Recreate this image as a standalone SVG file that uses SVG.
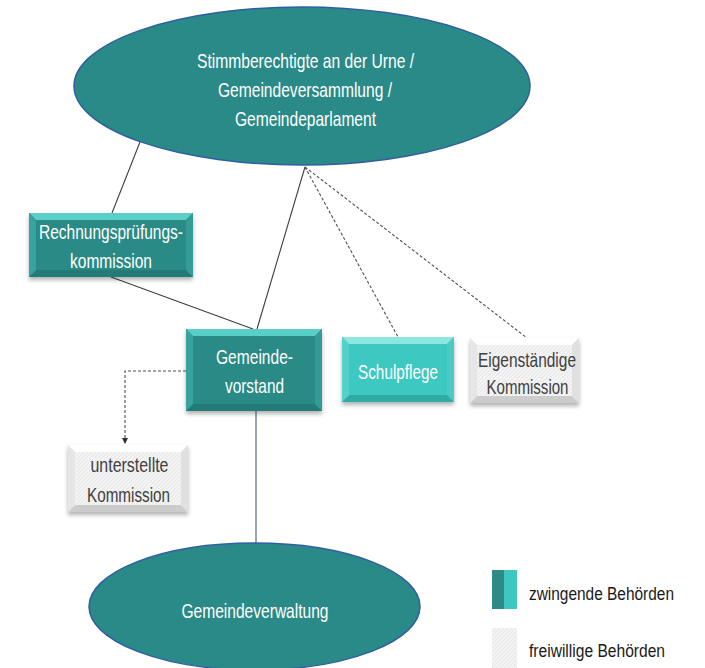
<svg xmlns="http://www.w3.org/2000/svg" width="705" height="668" viewBox="0 0 705 668">
<defs>
<style>
.t{font-family:"Liberation Sans Narrow","Liberation Sans",Arial,sans-serif;font-size:21px;text-anchor:middle}
.w{fill:#ffffff}
.g{fill:#404040}
.lg{font-family:"Liberation Sans Narrow","Liberation Sans",Arial,sans-serif;font-size:18px;fill:#1a1a1a}
.ell{fill:#2A8A88;stroke:#2F5FA0;stroke-width:1.5}
.ln{fill:none;stroke:#3f3f3f;stroke-width:1.1}
.dl{fill:none;stroke:#505050;stroke-width:1.1;stroke-dasharray:3 2}
.tf{fill:#2A8A86}.tt{fill:#5ACFC8}.tl{fill:#38A39E}.tr{fill:#359B96}.tb{fill:#237B77}
.sf{fill:#3CC8C1}.st{fill:#8EE6E1}.sl{fill:#52D2CB}.sr{fill:#4CCAC3}.sb{fill:#30AAA4}
.gf{fill:url(#hatch)}.gt{fill:#FFFFFF}.gl{fill:#E6E6E6}.gr{fill:#E0E0E0}.gb{fill:#CCCCCC}
</style>
<pattern id="hatch" width="4" height="4" patternUnits="userSpaceOnUse">
<rect width="4" height="4" fill="#F3F3F3"/>
<path d="M0,4 L4,0" stroke="#E2E2E2" stroke-width="0.8"/>
</pattern>
<filter id="sh" x="-10%" y="-10%" width="120%" height="130%">
<feDropShadow dx="0" dy="3" stdDeviation="2" flood-color="#000" flood-opacity="0.3"/>
</filter>
<marker id="arr" markerWidth="8" markerHeight="8" refX="6" refY="3" orient="auto" markerUnits="userSpaceOnUse">
<path d="M0,0 L6,3 L0,6 Z" fill="#303030"/>
</marker>
</defs>
<rect width="705" height="668" fill="#ffffff"/>

<g id="connectors">
<path class="ln" d="M140,142 L112,213"/>
<path class="ln" d="M111,277 L253,329"/>
<path class="ln" d="M305,167 L257,329"/>
<path class="dl" d="M305,167 L398,337"/>
<path class="dl" d="M305,167 L527,338"/>
<path class="dl" d="M186,371 H125 V444" marker-end="url(#arr)"/>
<path fill="none" stroke="#56688A" stroke-width="1.2" d="M256,411 V543"/>
</g>

<g id="stimmberechtigte">
<ellipse class="ell" cx="302" cy="86" rx="228" ry="79"/>
<text class="t w" x="305.5" y="68" textLength="217" lengthAdjust="spacingAndGlyphs">Stimmberechtigte an der Urne /</text>
<text class="t w" x="305" y="97" textLength="174" lengthAdjust="spacingAndGlyphs">Gemeindeversammlung /</text>
<text class="t w" x="305.5" y="126" textLength="141" lengthAdjust="spacingAndGlyphs">Gemeindeparlament</text>
</g>

<g id="rechnungspruefungskommission">
<g filter="url(#sh)">
<rect class="tf" x="29" y="213" width="164" height="64"/>
</g>
<polygon class="tt" points="29,213 193,213 186,220 36,220"/>
<polygon class="tb" points="29,277 193,277 186,270 36,270"/>
<polygon class="tl" points="29,213 36,220 36,270 29,277"/>
<polygon class="tr" points="193,213 186,220 186,270 193,277"/>
<text class="t w" x="111" y="239" textLength="144" lengthAdjust="spacingAndGlyphs">Rechnungsprüfungs-</text>
<text class="t w" x="111" y="268" textLength="82" lengthAdjust="spacingAndGlyphs">kommission</text>
</g>

<g id="gemeindevorstand">
<g filter="url(#sh)">
<rect class="tf" x="186" y="329" width="136" height="82"/>
</g>
<polygon class="tt" points="186,329 322,329 315,336 193,336"/>
<polygon class="tb" points="186,411 322,411 315,404 193,404"/>
<polygon class="tl" points="186,329 193,336 193,404 186,411"/>
<polygon class="tr" points="322,329 315,336 315,404 322,411"/>
<text class="t w" x="254.5" y="364" textLength="77" lengthAdjust="spacingAndGlyphs">Gemeinde-</text>
<text class="t w" x="254.5" y="393" textLength="59" lengthAdjust="spacingAndGlyphs">vorstand</text>
</g>

<g id="schulpflege">
<g filter="url(#sh)">
<rect class="sf" x="342" y="337" width="112" height="65"/>
</g>
<polygon class="st" points="342,337 454,337 447,344 349,344"/>
<polygon class="sb" points="342,402 454,402 447,395 349,395"/>
<polygon class="sl" points="342,337 349,344 349,395 342,402"/>
<polygon class="sr" points="454,337 447,344 447,395 454,402"/>
<text class="t w" x="398" y="379" textLength="80" lengthAdjust="spacingAndGlyphs">Schulpflege</text>
</g>

<g id="eigenstaendige-kommission">
<g filter="url(#sh)">
<rect class="gf" x="470" y="338" width="109" height="65"/>
</g>
<polygon class="gt" points="470,338 579,338 572,345 477,345"/>
<polygon class="gb" points="470,403 579,403 572,396 477,396"/>
<polygon class="gl" points="470,338 477,345 477,396 470,403"/>
<polygon class="gr" points="579,338 572,345 572,396 579,403"/>
<text class="t g" x="527" y="367" textLength="98" lengthAdjust="spacingAndGlyphs">Eigenständige</text>
<text class="t g" x="527.5" y="394" textLength="82" lengthAdjust="spacingAndGlyphs">Kommission</text>
</g>

<g id="unterstellte-kommission">
<g filter="url(#sh)">
<rect class="gf" x="68" y="445" width="120" height="67"/>
</g>
<polygon class="gt" points="68,445 188,445 181,452 75,452"/>
<polygon class="gb" points="68,512 188,512 181,505 75,505"/>
<polygon class="gl" points="68,445 75,452 75,505 68,512"/>
<polygon class="gr" points="188,445 181,452 181,505 188,512"/>
<text class="t g" x="129.5" y="472" textLength="78" lengthAdjust="spacingAndGlyphs">unterstellte</text>
<text class="t g" x="128.5" y="502" textLength="83" lengthAdjust="spacingAndGlyphs">Kommission</text>
</g>

<g id="gemeindeverwaltung">
<ellipse class="ell" cx="254.5" cy="606.5" rx="165.5" ry="63.5"/>
<text class="t w" x="255" y="618" textLength="147" lengthAdjust="spacingAndGlyphs">Gemeindeverwaltung</text>
</g>

<g id="legend">
<rect x="492" y="570" width="12" height="39" fill="#2E8A87"/>
<rect x="504" y="570" width="13" height="39" fill="#3CC8C1"/>
<text class="lg" x="529" y="600" textLength="145" lengthAdjust="spacingAndGlyphs">zwingende Behörden</text>
<rect x="492" y="628" width="25" height="40" fill="url(#hatch)"/>
<text class="lg" x="529" y="657" textLength="136" lengthAdjust="spacingAndGlyphs">freiwillige Behörden</text>
</g>
</svg>
